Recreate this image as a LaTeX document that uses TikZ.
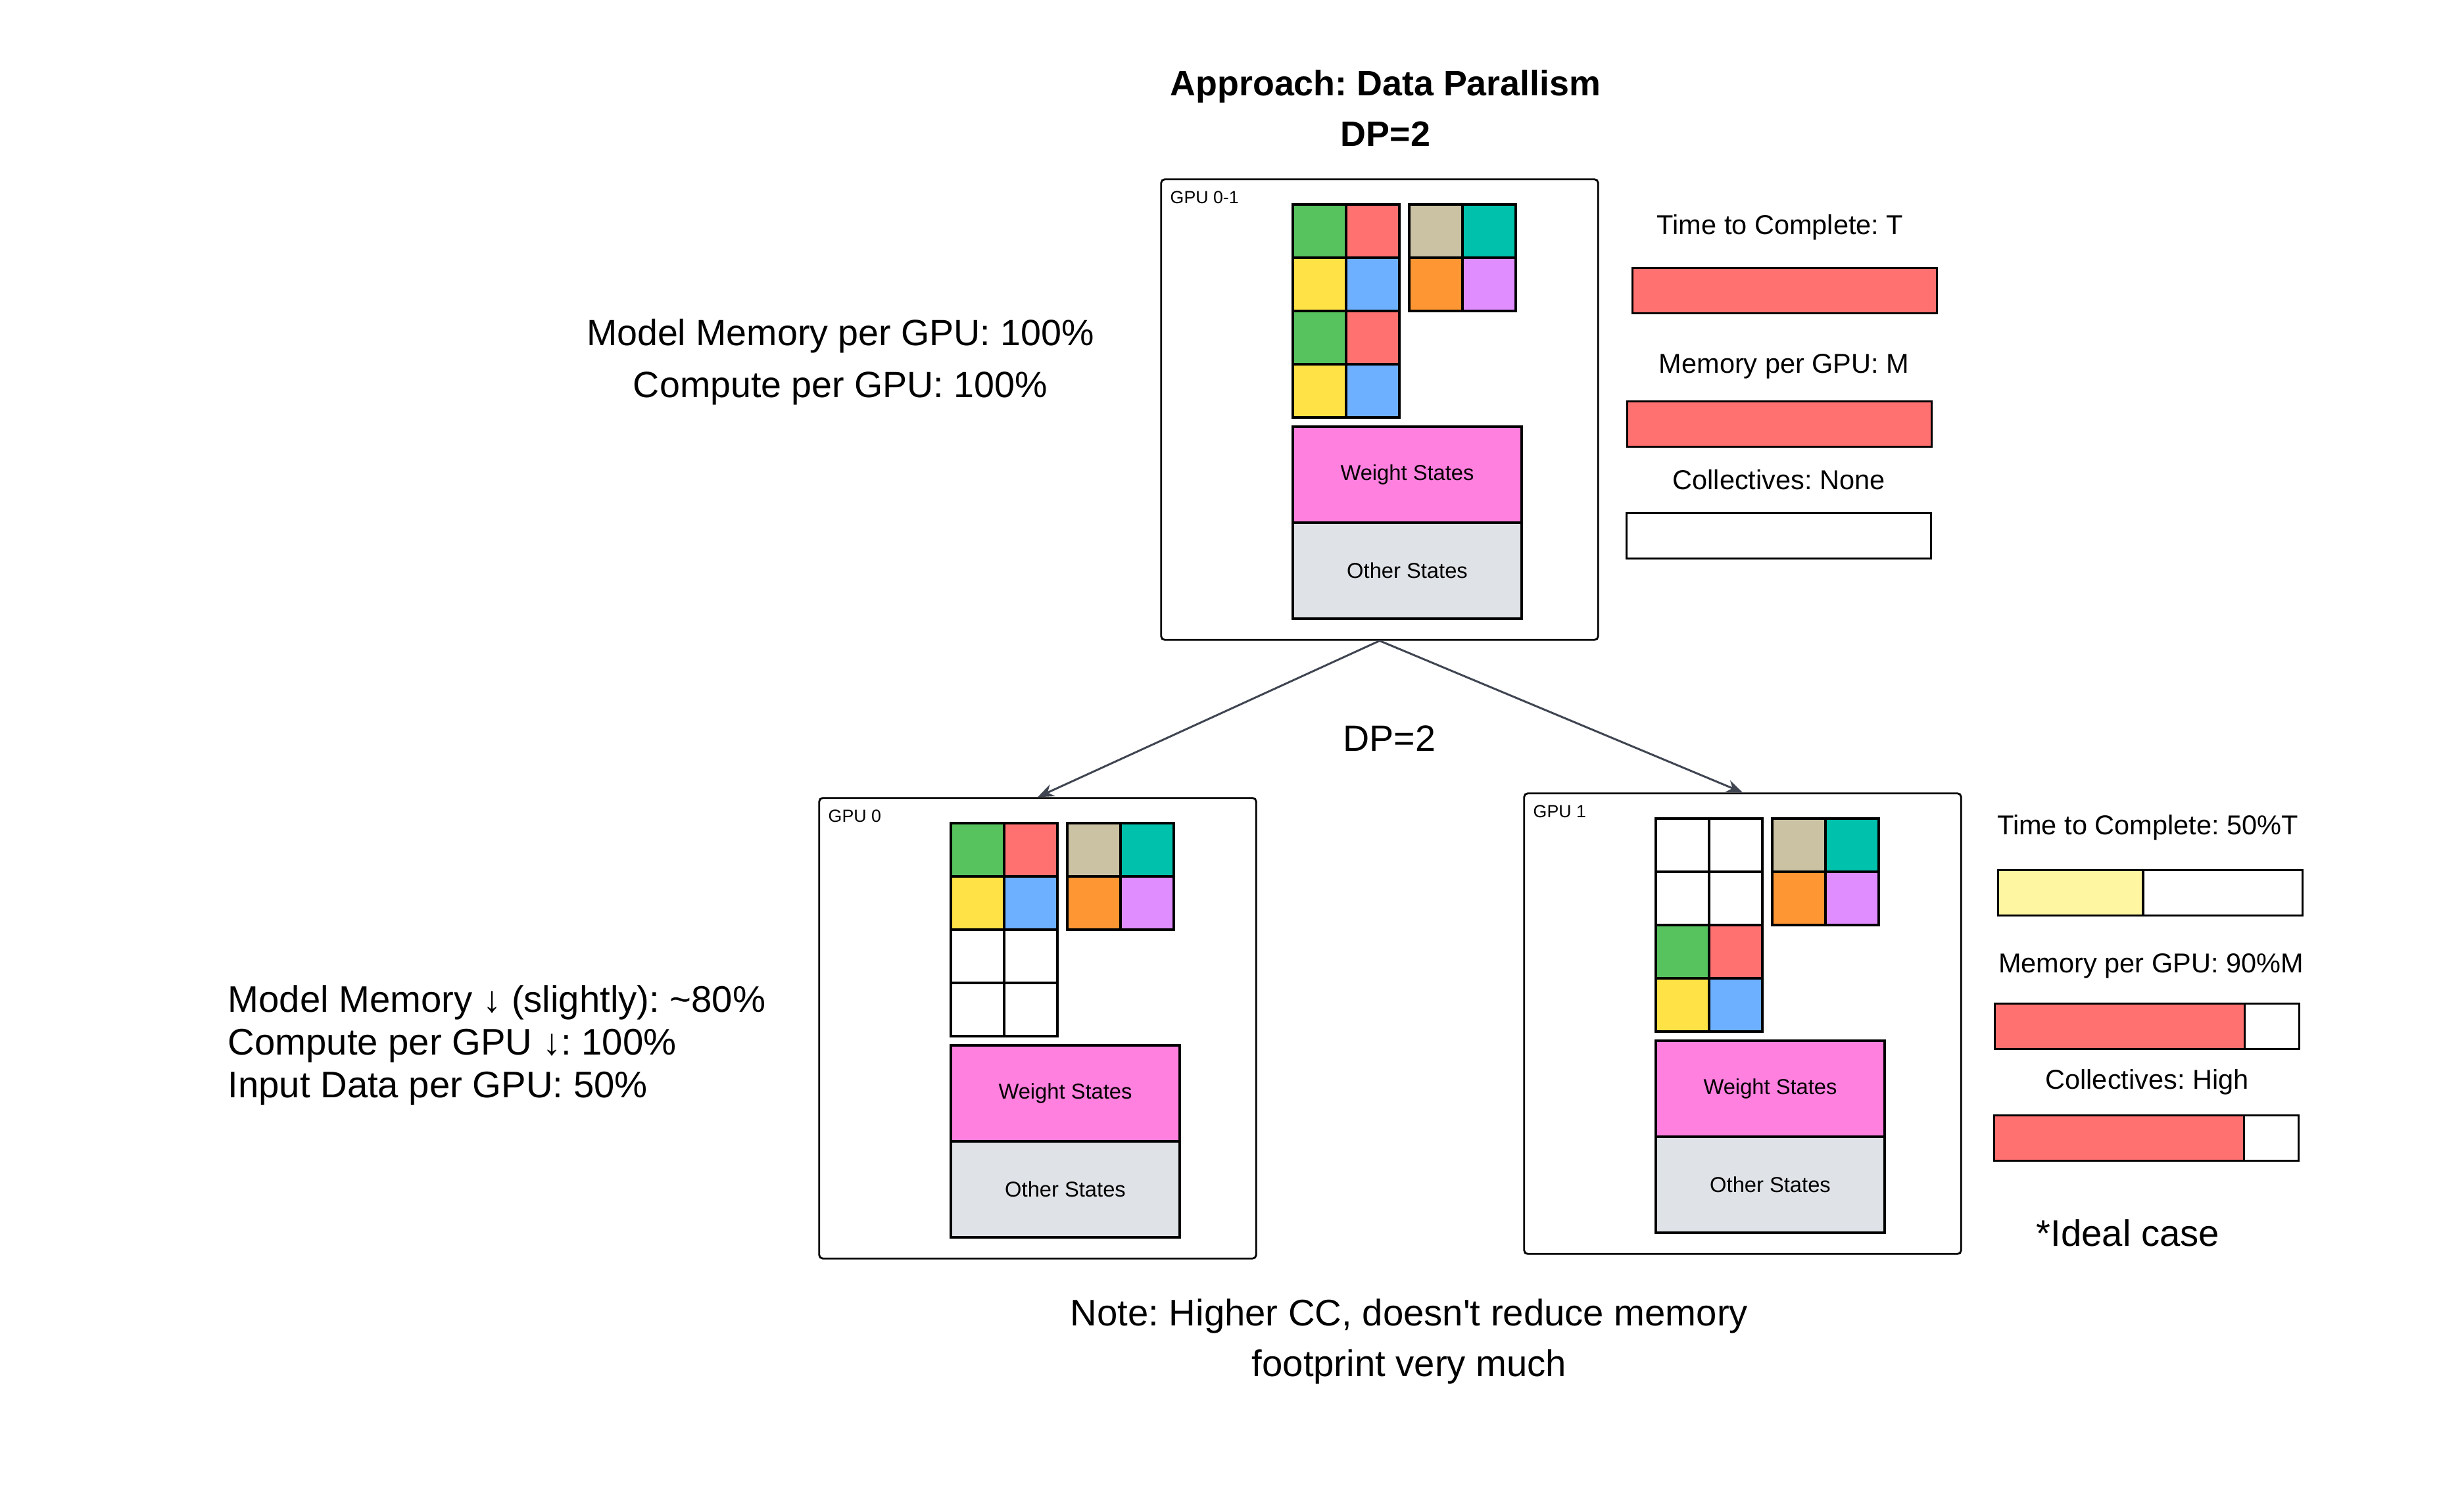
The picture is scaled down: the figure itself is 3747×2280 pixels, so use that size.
\documentclass[tikz,border=0pt]{standalone}
\usepackage{fontspec}
\setmainfont{Liberation Sans}[Ligatures=TeXOff]
\usetikzlibrary{
    arrows.meta,
    positioning
}
\definecolor{ca11}{HTML}{56C35E}
\definecolor{ca12}{HTML}{FF7070}
\definecolor{ca21}{HTML}{FFE245}
\definecolor{ca22}{HTML}{6DB0FF}
\definecolor{cb11}{HTML}{CAC2A3}
\definecolor{cb12}{HTML}{00C1AB}
\definecolor{cb21}{HTML}{FE9733}
\definecolor{cb22}{HTML}{E08DFF}
\definecolor{weightst}{HTML}{FF80DF}
\definecolor{otherst}{HTML}{DFE2E6}
\definecolor{barred}{HTML}{FF7070}
\definecolor{baryellow}{HTML}{FFF6A2}
\definecolor{linkgray}{HTML}{3F4551}
\frenchspacing

\begin{document}
\begin{tikzpicture}[x=0.01cm, y=-0.01cm,
    big/.style={inner sep=0pt, font=\fontsize{15.8}{19}\selectfont},
    lbl/.style={inner sep=0pt, font=\fontsize{11.8}{14}\selectfont},
    gpubox/.style={draw, line width=0.8pt, rounded corners=1.5pt, minimum width=6.64cm, minimum height=7cm, inner sep=0pt},
    gpulabel/.style={inner sep=0pt, anchor=base west, font=\fontsize{7.6}{9}\selectfont},
    cell/.style={draw, line width=1pt, minimum size=0.81cm, inner sep=0pt, outer sep=0pt},
    state/.style={draw, line width=1pt, minimum width=3.48cm, minimum height=1.46cm, inner sep=0pt, outer sep=0pt, font=\fontsize{9.3}{11}\selectfont},
    bar/.style={draw, line width=0.9pt, minimum width=4.62cm, minimum height=0.69cm, inner sep=0pt, outer sep=0pt},
    link/.style={draw=linkgray, line width=0.85pt, -{Stealth[length=7pt, width=5.5pt]}}
]
\useasboundingbox (0, 0) rectangle (3747, 2280);

\node[big, font=\bfseries\fontsize{15.3}{18}\selectfont, anchor=base] (title) at (2107, 146) {Approach: Data Parallism};
\node[big, font=\bfseries\fontsize{15.3}{18}\selectfont, anchor=base] (dp) at (2107, 223) {DP=2};

% the three GPUs
\foreach \nm/\bx/\by/\lab/\rf/\rt in {gpu01/1766/273/GPU 0-1/1/4, gpu0/1246/1214/GPU 0/1/2, gpu1/2318/1207/GPU 1/3/4} {
    \node[gpubox] (\nm) at (\bx+332, \by+350) {};
    \node[gpulabel] (\nm-lab) at (\bx+13, \by+37) {\lab};
    \foreach \r in {1,...,4}
        \foreach \c in {1,2} {
            \pgfmathtruncatemacro\on{(\r>=\rf)*(\r<=\rt)}
            \pgfmathtruncatemacro\p{2-mod(\r,2)}
            \ifnum\on=1 \edef\fc{ca\p\c}\else\def\fc{white}\fi
            \node[cell, fill=\fc] (\nm-a\r\c) at (\bx+159.5+81*\c, \by-2.5+81*\r) {};
        }
    \foreach \r in {1,2}
        \foreach \c in {1,2}
            \node[cell, fill=cb\r\c] (\nm-b\r\c) at (\bx+336.5+81*\c, \by-2.5+81*\r) {};
    \node[state, fill=weightst] (\nm-w) at (\bx+374, \by+449) {Weight States};
    \node[state, fill=otherst] (\nm-o) at (\bx+374, \by+595) {Other States};
}

\draw[link] (gpu01.south) -- (gpu0.north);
\draw[link] (gpu01.south) -- (gpu1.north);
\node[big, anchor=base] (dpmid) at (2113, 1143) {DP=2};

% left notes
\node[big, anchor=base] (mm) at (1278, 526) {Model Memory per GPU: 100\%};
\node[big, anchor=base] (cp) at (1278, 605) {Compute per GPU: 100\%};
\node[big, font=\fontsize{16}{19}\selectfont, anchor=base west] (mm2) at (346, 1540) {Model Memory ↓ (slightly): \textasciitilde 80\%};
\node[big, font=\fontsize{16}{19}\selectfont, anchor=base west] (cp2) at (346, 1605) {Compute per GPU ↓: 100\%};
\node[big, font=\fontsize{16}{19}\selectfont, anchor=base west] (in2) at (346, 1670) {Input Data per GPU: 50\%};

% bars, top
\node[lbl, anchor=base] (ttlab) at (2707, 357) {Time to Complete: T};
\node[bar, fill=barred] (tt) at (2714, 442) {};
\node[lbl, anchor=base] (memlab) at (2713, 568) {Memory per GPU: M};
\node[bar, fill=barred] (mem) at (2706, 645) {};
\node[lbl, anchor=base] (cclab) at (2705, 745) {Collectives: None};
\node[bar, fill=white] (cc) at (2705, 815) {};

% bars, bottom
\node[lbl, anchor=base] (tt2lab) at (3266, 1270) {Time to Complete: 50\%T};
\node[bar, fill=white] (tt2) at (3270, 1358) {};
\node[bar, fill=baryellow, minimum width=2.2cm, anchor=west] (tt2f) at (tt2.west) {};
\node[lbl, anchor=base] (mem2lab) at (3271, 1480) {Memory per GPU: 90\%M};
\node[bar, fill=white] (mem2) at (3265, 1561) {};
\node[bar, fill=barred, minimum width=3.79cm, anchor=west] (mem2f) at (mem2.west) {};
\node[lbl, anchor=base] (cc2lab) at (3265, 1657) {Collectives: High};
\node[bar, fill=white] (cc2) at (3264, 1731) {};
\node[bar, fill=barred, minimum width=3.79cm, anchor=west] (cc2f) at (cc2.west) {};
\node[big, font=\fontsize{16}{19}\selectfont, anchor=base] (ideal) at (3236, 1895) {*Ideal case};

\node[big, font=\fontsize{16}{19}\selectfont, anchor=base] (note1) at (2143, 2016) {Note: Higher CC, doesn't reduce memory};
\node[big, font=\fontsize{16}{19}\selectfont, anchor=base] (note2) at (2143, 2093) {footprint very much};
\end{tikzpicture}
\end{document}
